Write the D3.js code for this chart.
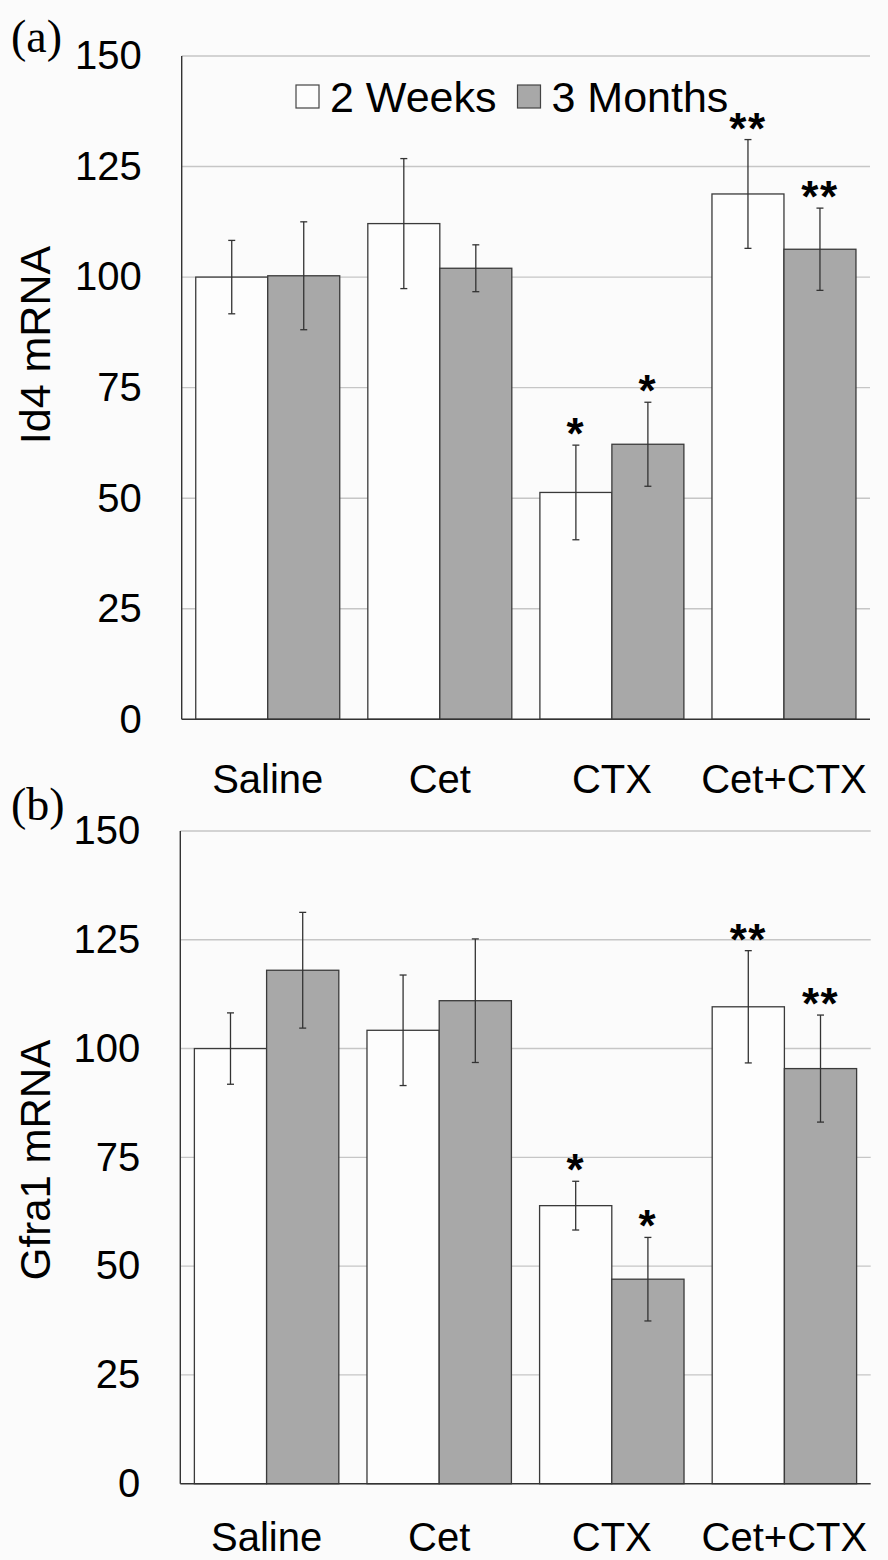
<!DOCTYPE html>
<html>
<head>
<meta charset="utf-8">
<script src="https://cdn.jsdelivr.net/npm/d3@7"></script>
<style>
  html, body { margin: 0; padding: 0; background: #fbfbfb; }
  svg { display: block; }
  text { font-family: "Liberation Sans", Arial, sans-serif; fill: #000; }
</style>
</head>
<body>
<svg id="chart" width="888" height="1560"></svg>
<script>
// ---------- data ----------
const categories = ["Saline", "Cet", "CTX", "Cet+CTX"];
const seriesNames = ["2 Weeks", "3 Months"];
const yTicks = [0, 25, 50, 75, 100, 125, 150];

// Panel (a): Id4 mRNA
const id4Weeks = [100.0, 112.1, 51.3, 118.8];
const id4WeeksErr = [8.3, 14.7, 10.7, 12.3];
const id4Months = [100.3, 102.0, 62.2, 106.3];
const id4MonthsErr = [12.2, 5.3, 9.5, 9.3];
const id4WeeksSig = ["", "", "*", "**"];
const id4MonthsSig = ["", "", "*", "**"];

// Panel (b): Gfra1 mRNA
const gfraWeeks = [100.0, 104.2, 63.9, 109.6];
const gfraWeeksErr = [8.2, 12.7, 5.6, 12.9];
const gfraMonths = [118.0, 111.0, 47.0, 95.4];
const gfraMonthsErr = [13.3, 14.2, 9.6, 12.3];
const gfraWeeksSig = ["", "", "*", "**"];
const gfraMonthsSig = ["", "", "*", "**"];

// ---------- drawing ----------
const svg = d3.select("#chart");
const fills = { "2 Weeks": "#fdfdfd", "3 Months": "#a8a8a8" };

function drawPanel(opts) {
  const g = svg.append("g");
  const x = d3.scaleBand().domain(categories).range([opts.left, opts.right]).paddingInner(0).paddingOuter(0);
  const xi = d3.scaleBand().domain(seriesNames).range([0, x.bandwidth()]).paddingInner(0).paddingOuter(0.195);
  const y = d3.scaleLinear().domain([0, 150]).range([opts.bottom, opts.top]);

  // gridlines
  g.append("g").selectAll("line").data(yTicks.filter(t => t > 0)).join("line")
    .attr("x1", opts.left).attr("x2", opts.right)
    .attr("y1", d => y(d)).attr("y2", d => y(d))
    .attr("stroke", "#c6c6c6").attr("stroke-width", 1.4);

  // y tick labels
  const yAxis = d3.axisLeft(y).tickValues(yTicks).tickSize(0).tickPadding(40);
  const ya = g.append("g").attr("transform", `translate(${opts.left},0)`).call(yAxis);
  ya.select(".domain").remove();
  ya.selectAll("text").attr("font-size", 40).attr("font-family", "Liberation Sans, Arial, sans-serif").attr("fill", "#000");

  const rows = categories.map((c, i) => ({
    cat: c,
    vals: [
      { s: seriesNames[0], v: opts.weeks[i], e: opts.weeksErr[i], sig: opts.weeksSig[i] },
      { s: seriesNames[1], v: opts.months[i], e: opts.monthsErr[i], sig: opts.monthsSig[i] }
    ]
  }));

  const grp = g.append("g").selectAll("g").data(rows).join("g")
    .attr("transform", d => `translate(${x(d.cat)},0)`);

  grp.selectAll("rect").data(d => d.vals).join("rect")
    .attr("x", d => xi(d.s)).attr("width", xi.bandwidth())
    .attr("y", d => y(d.v)).attr("height", d => y(0) - y(d.v))
    .attr("fill", d => fills[d.s]).attr("stroke", "#3a3a3a").attr("stroke-width", 1.3);

  // error bars
  const eb = grp.selectAll("g.eb").data(d => d.vals).join("g").attr("class", "eb");
  const cx = d => xi(d.s) + xi.bandwidth() / 2;
  eb.append("line")
    .attr("x1", cx).attr("x2", cx)
    .attr("y1", d => y(d.v + d.e)).attr("y2", d => y(d.v - d.e))
    .attr("stroke", "#333").attr("stroke-width", 1.3);
  eb.append("line")
    .attr("x1", d => cx(d) - 3.5).attr("x2", d => cx(d) + 3.5)
    .attr("y1", d => y(d.v + d.e)).attr("y2", d => y(d.v + d.e))
    .attr("stroke", "#333").attr("stroke-width", 1.3);
  eb.append("line")
    .attr("x1", d => cx(d) - 3.5).attr("x2", d => cx(d) + 3.5)
    .attr("y1", d => y(d.v - d.e)).attr("y2", d => y(d.v - d.e))
    .attr("stroke", "#333").attr("stroke-width", 1.3);

  // significance marks
  eb.filter(d => d.sig).append("text")
    .attr("x", cx)
    .attr("y", d => y(d.v + d.e) + 4)
    .attr("text-anchor", "middle").attr("font-size", 44).attr("font-weight", "bold")
    .attr("letter-spacing", 1.5)
    .text(d => d.sig);

  // axes lines
  g.append("line").attr("x1", opts.left).attr("x2", opts.left)
    .attr("y1", y(150)).attr("y2", y(0)).attr("stroke", "#333").attr("stroke-width", 1.4);
  g.append("line").attr("x1", opts.left).attr("x2", opts.right)
    .attr("y1", y(0)).attr("y2", y(0)).attr("stroke", "#333").attr("stroke-width", 1.4);

  // category labels
  g.append("g").selectAll("text").data(categories).join("text")
    .attr("x", d => x(d) + x.bandwidth() / 2).attr("y", y(0) + opts.catOffset)
    .attr("text-anchor", "middle").attr("font-size", 40).text(d => d);

  // y title
  g.append("text").attr("transform", `translate(50,${opts.titleY}) rotate(-90)`)
    .attr("text-anchor", "middle").attr("font-size", opts.titleSize).text(opts.title);

  // panel letter
  g.append("text").attr("x", 11).attr("y", opts.letterY)
    .attr("font-size", 46)
    .style("font-family", "'Liberation Serif', 'Times New Roman', serif")
    .text(opts.letter);
}

drawPanel({
  left: 181.7, right: 870, top: 56, bottom: 719.3, catOffset: 74,
  weeks: id4Weeks, weeksErr: id4WeeksErr, months: id4Months, monthsErr: id4MonthsErr,
  weeksSig: id4WeeksSig, monthsSig: id4MonthsSig,
  title: "Id4 mRNA", titleY: 345, titleSize: 43, letter: "(a)", letterY: 52
});

drawPanel({
  left: 180.3, right: 870.7, top: 831, bottom: 1483.7, catOffset: 67,
  weeks: gfraWeeks, weeksErr: gfraWeeksErr, months: gfraMonths, monthsErr: gfraMonthsErr,
  weeksSig: gfraWeeksSig, monthsSig: gfraMonthsSig,
  title: "Gfra1 mRNA", titleY: 1160, titleSize: 42, letter: "(b)", letterY: 820
});

// legend (panel a)
const legendItems = [
  { s: seriesNames[0], bx: 296, tx: 330 },
  { s: seriesNames[1], bx: 517.5, tx: 551.5 }
];
const lg = svg.append("g").selectAll("g").data(legendItems).join("g");
lg.append("rect").attr("x", d => d.bx).attr("y", 85).attr("width", 23).attr("height", 23)
  .attr("fill", d => fills[d.s]).attr("stroke", "#444").attr("stroke-width", 1.2);
lg.append("text").attr("x", d => d.tx).attr("y", 111.5).attr("font-size", 43).text(d => d.s);
</script>
</body>
</html>
